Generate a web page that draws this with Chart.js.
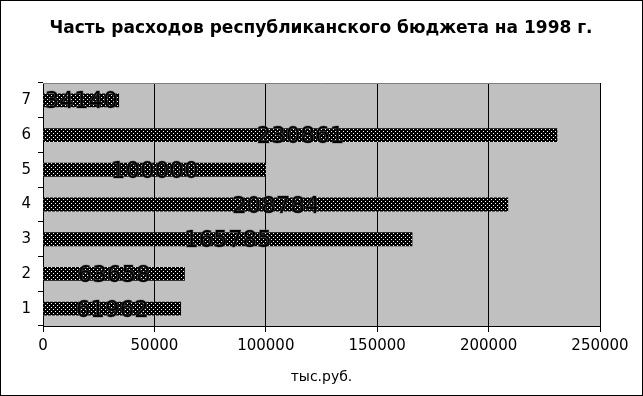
<!DOCTYPE html>
<html>
<head>
<meta charset="utf-8">
<script src="https://cdn.jsdelivr.net/npm/chart.js@4"></script>
<style>
  html, body { margin: 0; padding: 0; background: #fff; }
  canvas { display: block; }
</style>
</head>
<body>
<canvas id="chart" width="643" height="396"></canvas>
<script>
// Budget share per item, 1998 (тыс.руб.)
const categories = ['1', '2', '3', '4', '5', '6', '7'];
const values = [61962, 63658, 165785, 208784, 100000, 230861, 34140];
const xTicks = [0, 50000, 100000, 150000, 200000, 250000];
const titleText = 'Часть расходов республиканского бюджета на 1998 г.';

const FONT = "'DejaVu Sans', Verdana, sans-serif";

// Black tile with sparse white dots, like the old Excel fill.
function dotPattern(ctx) {
  const t = document.createElement('canvas');
  t.width = 4; t.height = 4;
  const c = t.getContext('2d');
  c.fillStyle = '#000';
  c.fillRect(0, 0, 4, 4);
  c.fillStyle = '#fff';
  c.fillRect(1, 1, 1, 1);
  c.fillRect(3, 3, 1, 1);
  return ctx.createPattern(t, 'repeat');
}

// Grey plot area, white page, black frame and centred title.
const frame = {
  id: 'frame',
  beforeDraw(chart) {
    const { ctx, chartArea: a, width, height } = chart;
    ctx.save();
    ctx.fillStyle = '#fff';
    ctx.fillRect(0, 0, width, height);
    ctx.fillStyle = '#c0c0c0';
    ctx.fillRect(a.left, a.top, a.right - a.left, a.bottom - a.top);
    ctx.restore();
  },
  afterDraw(chart) {
    const { ctx, chartArea: a, width, height } = chart;
    ctx.save();
    ctx.strokeStyle = '#808080';
    ctx.lineWidth = 1;
    ctx.beginPath();
    ctx.moveTo(a.left, a.top + 0.5);
    ctx.lineTo(a.right, a.top + 0.5);
    ctx.stroke();
    ctx.strokeStyle = '#000';
    ctx.strokeRect(0.5, 0.5, width - 1, height - 1);
    ctx.fillStyle = '#000';
    ctx.font = 'bold 17px ' + FONT;
    ctx.textAlign = 'center';
    ctx.textBaseline = 'middle';
    ctx.fillText(titleText, 321, 29);
    ctx.restore();
  },
};

// Big value labels centred on each bar.
const valueLabels = {
  id: 'valueLabels',
  afterDatasetsDraw(chart) {
    const { ctx } = chart;
    const meta = chart.getDatasetMeta(0);
    ctx.save();
    ctx.font = '23px ' + FONT;
    ctx.textAlign = 'center';
    ctx.textBaseline = 'alphabetic';
    ctx.lineWidth = 1;
    ctx.strokeStyle = 'rgba(110,110,110,0.7)';
    ctx.fillStyle = '#000';
    meta.data.forEach((bar, i) => {
      const x = (bar.base + bar.x) / 2;
      const y = bar.y + 8;
      const txt = String(chart.data.datasets[0].data[i]);
      ctx.strokeText(txt, x, y);
      ctx.fillText(txt, x, y);
    });
    ctx.restore();
  },
};

const el = document.getElementById('chart');
new Chart(el, {
  type: 'bar',
  data: {
    labels: categories,
    datasets: [{
      data: values,
      backgroundColor: dotPattern(el.getContext('2d')),
      borderWidth: 0,
      categoryPercentage: 1,
      barPercentage: 0.4,
    }],
  },
  options: {
    indexAxis: 'y',
    responsive: false,
    animation: false,
    devicePixelRatio: 1,
    layout: { padding: { left: 0, right: 43, top: 83, bottom: 0 } },
    plugins: {
      legend: { display: false },
      tooltip: { enabled: false },
      title: { display: false },
    },
    scales: {
      x: {
        min: 0, max: 250000,
        afterBuildTicks: s => { s.ticks = xTicks.map(v => ({ value: v })); },
        afterFit: s => { s.height = 70; },
        grid: { color: '#000', lineWidth: 1, tickLength: 6 },
        border: { color: '#000' },
        ticks: {
          color: '#000', padding: 5,
          font: { family: FONT, size: 15 },
          callback: v => String(v),
        },
        title: {
          display: true, text: 'тыс.руб.', color: '#000',
          font: { family: FONT, size: 14 },
          padding: { top: 4, bottom: 10 },
        },
      },
      y: {
        reverse: true,
        afterFit: s => { s.width = 43; },
        grid: { offset: true, drawOnChartArea: false, color: '#000', tickLength: 5 },
        border: { color: '#000' },
        ticks: { color: '#000', padding: 7, font: { family: FONT, size: 15 } },
      },
    },
  },
  plugins: [frame, valueLabels],
});
</script>
</body>
</html>
